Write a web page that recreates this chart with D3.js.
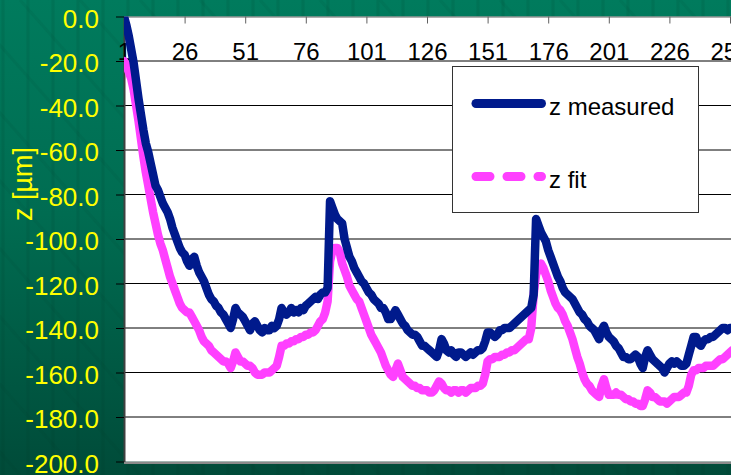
<!DOCTYPE html>
<html>
<head>
<meta charset="utf-8">
<script src="https://cdn.jsdelivr.net/npm/d3@7"></script>
<style>
  html, body { margin: 0; padding: 0; background: #006a4f; }
  svg { display: block; }
</style>
</head>
<body>
<svg id="chart" width="731" height="475"></svg>
<script>
// Measured and fitted height profiles, one value per sample point (1, 2, 3, ...)
const zMeasured = [
  0, -4, -9, -15, -21, -29, -37, -44, -51, -57,
  -61, -66, -71, -76, -78, -81, -84, -86, -88, -91,
  -95, -98, -101, -104, -106, -107, -110, -112, -109, -108,
  -112, -115, -117, -119, -122, -125, -127, -128, -130, -131,
  -133, -134, -136, -138, -140, -136, -131, -133, -134, -135,
  -137, -139, -141, -138, -137, -139, -141, -142, -140, -141,
  -141, -139, -140, -139, -136, -131, -133, -134, -133, -131,
  -133, -132, -133, -131, -132, -130, -129, -128, -127, -126,
  -127, -125, -124, -124, -122, -83, -86, -89, -91, -92,
  -93, -100, -104, -108, -110, -113, -115, -117, -119, -120,
  -122, -124, -125, -127, -128, -129, -131, -131, -133, -136,
  -136, -134, -132, -134, -136, -138, -139, -141, -142, -143,
  -143, -144, -146, -148, -148, -149, -150, -151, -152, -153,
  -150, -145, -147, -150, -151, -150, -152, -153, -151, -151,
  -152, -153, -152, -151, -152, -151, -150, -150, -149, -146,
  -142, -142, -143, -144, -143, -141, -141, -140, -140, -140,
  -139, -138, -137, -136, -135, -134, -133, -132, -131, -125,
  -91, -94, -97, -99, -101, -105, -108, -111, -114, -117,
  -119, -122, -124, -125, -126, -127, -129, -131, -133, -134,
  -136, -137, -139, -140, -141, -143, -145, -141, -139, -142,
  -144, -145, -146, -148, -149, -151, -153, -153, -154, -154,
  -153, -152, -153, -156, -158, -153, -150, -152, -154, -155,
  -156, -157, -158, -160, -158, -156, -155, -156, -155, -156,
  -157, -157, -156, -152, -148, -144, -144, -147, -148, -146,
  -145, -145, -144, -144, -143, -142, -141, -140, -140, -141,
  -140, -140, -139, -139, -138, -138
];

const zFit = [
  -20, -22, -25, -28, -33, -40, -47, -55, -63, -70,
  -76, -82, -88, -93, -98, -102, -105, -109, -113, -117,
  -120, -123, -126, -129, -131, -132, -133, -133, -135, -137,
  -139, -141, -144, -146, -147, -148, -150, -151, -152, -153,
  -154, -155, -155, -156, -158, -155, -151, -153, -155, -155,
  -156, -157, -157, -158, -160, -161, -161, -161, -160, -160,
  -160, -159, -158, -157, -153, -148, -148, -147, -147, -146,
  -146, -145, -145, -144, -144, -143, -143, -142, -142, -141,
  -139, -137, -136, -133, -128, -110, -105, -104, -104, -106,
  -111, -114, -117, -121, -123, -125, -127, -128, -131, -134,
  -137, -140, -143, -145, -147, -149, -151, -154, -157, -159,
  -161, -162, -159, -156, -159, -162, -163, -164, -165, -166,
  -166, -167, -167, -168, -168, -168, -169, -169, -168, -166,
  -164, -165, -167, -168, -168, -169, -168, -168, -169, -168,
  -168, -169, -168, -167, -167, -167, -166, -166, -165, -161,
  -155, -154, -154, -153, -153, -153, -152, -152, -151, -151,
  -150, -150, -149, -148, -147, -146, -145, -145, -140, -125,
  -116, -113, -111, -113, -116, -119, -123, -126, -129, -131,
  -132, -134, -137, -139, -142, -145, -149, -153, -156, -160,
  -163, -165, -166, -168, -169, -170, -171, -166, -163, -167,
  -170, -170, -170, -169, -170, -170, -171, -172, -172, -173,
  -173, -174, -174, -175, -175, -172, -168, -169, -171, -171,
  -172, -173, -173, -173, -174, -173, -172, -171, -171, -171,
  -170, -169, -169, -166, -161, -159, -159, -158, -158, -158,
  -157, -157, -157, -157, -156, -155, -154, -154, -153, -152,
  -151, -150, -150, -149, -149, -148
];

const xTickLabels = [1, 26, 51, 76, 101, 126, 151, 176, 201, 226, 251];
const yTickValues = [0, -20, -40, -60, -80, -100, -120, -140, -160, -180, -200];
const seriesNames = ["z measured", "z fit"];
const yAxisTitle = "z [µm]";

const W = 731, H = 475;
const plot = { left: 124, top: 16.5, bottom: 461.5 };
const nPoints = zMeasured.length;
const step = 2.424;   // horizontal distance between consecutive samples
plot.right = plot.left + (nPoints - 1) * step;

const svg = d3.select("#chart");
const defs = svg.append("defs");

// Green slide background
const bg = defs.append("linearGradient").attr("id", "bgGrad")
  .attr("x1", 0).attr("y1", 0).attr("x2", 0).attr("y2", 1);
bg.append("stop").attr("offset", "0%").attr("stop-color", "#007b5d");
bg.append("stop").attr("offset", "45%").attr("stop-color", "#006c51");
bg.append("stop").attr("offset", "100%").attr("stop-color", "#004b39");
svg.append("rect").attr("width", W).attr("height", H).attr("fill", "url(#bgGrad)");

// faint woven texture on the background
const tex = svg.append("g").attr("stroke", "#003d2c").attr("stroke-opacity", 0.12).attr("stroke-width", 3);
d3.range(3, W, 25).forEach(x => tex.append("line").attr("x1", x).attr("x2", x).attr("y1", 0).attr("y2", H));
d3.range(-400, W, 60).forEach(x => tex.append("line").attr("x1", x).attr("y1", 0).attr("x2", x + 420).attr("y2", H)
  .attr("stroke-opacity", 0.07));

const x = d3.scaleLinear().domain([1, nPoints]).range([plot.left, plot.right]);
const y = d3.scaleLinear().domain([0, -200]).range([plot.top, plot.bottom]);

// plot area with a soft lower edge
svg.append("rect").attr("x", plot.left).attr("y", plot.bottom)
  .attr("width", W - plot.left).attr("height", 2.5).attr("fill", "#8a8a8a");
svg.append("rect").attr("x", plot.left).attr("y", plot.top)
  .attr("width", W - plot.left).attr("height", plot.bottom - plot.top).attr("fill", "#ffffff");

// horizontal gridlines
svg.append("g").selectAll("line").data(yTickValues.slice(1, -1)).join("line")
  .attr("x1", plot.left).attr("x2", W)
  .attr("y1", d => y(d)).attr("y2", d => y(d))
  .attr("stroke", "#000").attr("stroke-width", 1);

// y axis
const yAxis = svg.append("g").attr("transform", `translate(${plot.left},0)`)
  .call(d3.axisLeft(y).tickValues(yTickValues).tickFormat(d => d.toFixed(1))
    .tickSizeInner(8).tickSizeOuter(0).tickPadding(17));
yAxis.select(".domain").attr("stroke", "#404040").attr("stroke-width", 2);
yAxis.selectAll(".tick line").attr("stroke", "#000");
yAxis.selectAll("text").attr("fill", "#ffff00")
  .attr("font-family", "Liberation Sans, Arial, sans-serif").attr("font-size", 26)
  .attr("dy", "0.42em");

// y axis title
svg.append("text")
  .attr("transform", "translate(32,184) rotate(-90)")
  .attr("text-anchor", "middle")
  .attr("fill", "#ffff00")
  .attr("font-family", "Liberation Sans, Arial, sans-serif").attr("font-size", 27)
  .text(yAxisTitle);

// category axis along the zero line
const xAxis = svg.append("g").attr("transform", `translate(0,${y(0)})`)
  .call(d3.axisBottom(x).tickValues(xTickLabels).tickFormat(d3.format("d"))
    .tickSizeInner(7).tickSizeOuter(0).tickPadding(19));
xAxis.select(".domain").attr("stroke", "#606060");
xAxis.selectAll(".tick line").attr("stroke", "#606060");
xAxis.selectAll("text").attr("fill", "#000")
  .attr("font-family", "Liberation Sans, Arial, sans-serif").attr("font-size", 24);

// data lines
defs.append("clipPath").attr("id", "plotClip").append("rect")
  .attr("x", plot.left).attr("y", plot.top)
  .attr("width", W - plot.left).attr("height", plot.bottom - plot.top);

const line = d3.line().x((d, i) => x(i + 1)).y(d => y(d));
const lines = svg.append("g").attr("clip-path", "url(#plotClip)")
  .attr("fill", "none").attr("stroke-width", 8.5)
  .attr("stroke-linejoin", "round").attr("stroke-linecap", "round");
lines.append("path").datum(zFit).attr("d", line).attr("stroke", "#ff40ff");
lines.append("path").datum(zMeasured).attr("d", line).attr("stroke", "#001a8c");

// legend
const lg = svg.append("g");
lg.append("rect").attr("x", 452.5).attr("y", 66.5).attr("width", 246).attr("height", 146)
  .attr("fill", "#fff").attr("stroke", "#333").attr("stroke-width", 1);
const legendItems = [
  { name: seriesNames[0], color: "#001a8c", dash: null, cy: 103.5, by: 115 },
  { name: seriesNames[1], color: "#ff40ff", dash: "14,17", cy: 176.5, by: 188 }
];
legendItems.forEach(it => {
  lg.append("line").attr("x1", 476).attr("x2", 541.5).attr("y1", it.cy).attr("y2", it.cy)
    .attr("stroke", it.color).attr("stroke-width", 9).attr("stroke-linecap", "round")
    .attr("stroke-dasharray", it.dash);
  lg.append("text").attr("x", 549).attr("y", it.by)
    .attr("font-family", "Liberation Sans, Arial, sans-serif").attr("font-size", 24)
    .attr("fill", "#000").text(it.name);
});
</script>
</body>
</html>
